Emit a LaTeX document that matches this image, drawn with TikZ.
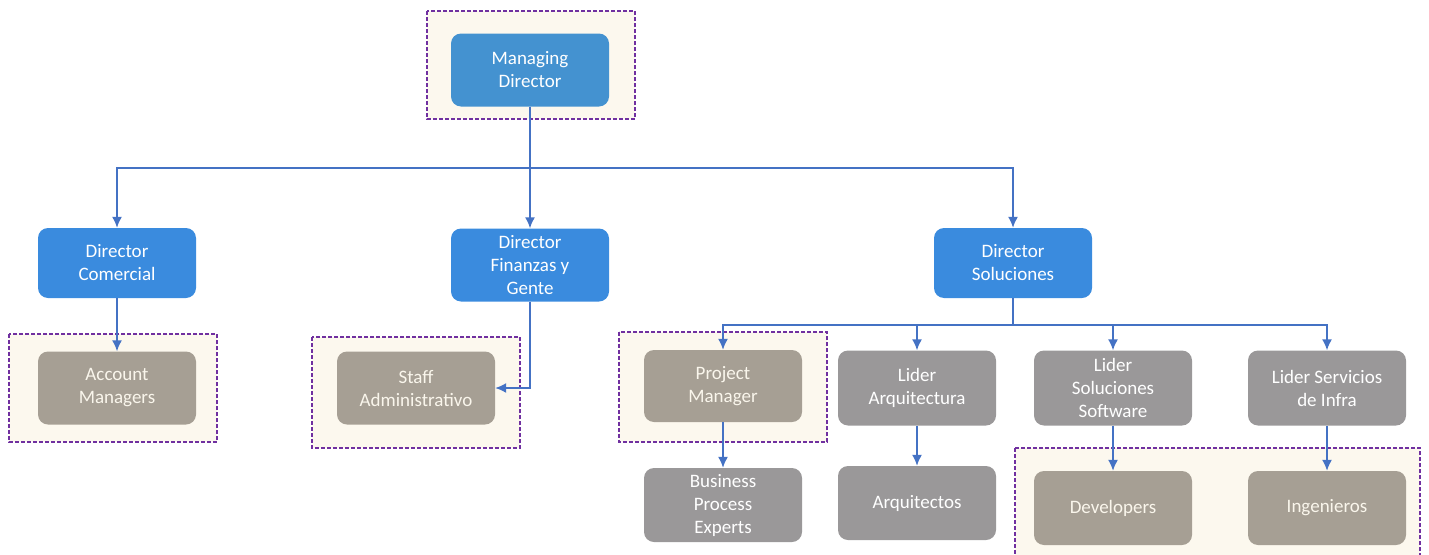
\documentclass[tikz,border=0pt]{standalone}
\usepackage{fontspec}
\setmainfont{Carlito}
\usetikzlibrary{arrows.meta}
\definecolor{mdblue}{RGB}{68,146,208}
\definecolor{dirblue}{RGB}{58,139,222}
\definecolor{brownbox}{RGB}{166,159,148}
\definecolor{graybox}{RGB}{154,152,153}
\definecolor{cream}{RGB}{252,248,238}
\definecolor{dashpurple}{RGB}{112,48,160}
\definecolor{linkblue}{RGB}{68,114,196}
\definecolor{paletext}{RGB}{250,246,236}

\begin{document}
\begin{tikzpicture}[x=1pt,y=-1pt,
  box/.style={rounded corners=10pt,minimum width=158pt,minimum height=73pt,
    align=center,text=white,font=\fontsize{19}{23}\selectfont,inner sep=2pt},
  dirbox/.style={box,fill=dirblue},
  staffbox/.style={box,fill=brownbox,text=paletext},
  leadbox/.style={box,fill=graybox},
  group/.style={draw=dashpurple,fill=cream,dashed,line width=1.2pt,dash pattern=on 4pt off 2pt},
  link/.style={draw=linkblue,line width=1.6pt,-{Latex[length=11pt,width=10pt]}}]
  \useasboundingbox (0,0) rectangle (1429,554);
  \clip (0,0) rectangle (1429,554);
  % dashed groups
  \draw [group] (427,11) rectangle (635,119);
  \draw [group] (9,334) rectangle (217,442);
  \draw [group] (312,337) rectangle (520,448);
  \draw [group] (619,332) rectangle (827,442);
  \draw [group] (1015,448) rectangle (1420,570);
  % top and directors
  \node [box,fill=mdblue] (md) at (530,70) {Managing\\Director};
  \node [dirbox,minimum height=70pt] (dc) at (117,263) {Director\\Comercial};
  \node [dirbox] (dfg) at (530,265) {Director\\Finanzas y\\Gente};
  \node [dirbox,minimum height=70pt] (ds) at (1013,263) {Director\\Soluciones};
  % second level
  \node [staffbox] (am) at (117,388) {Account\\Managers};
  \node [staffbox] (sa) at (416,388) {Staff\\Administrativo};
  \node [staffbox,minimum height=72pt] (pm) at (723,386) {Project\\Manager};
  \node [leadbox,minimum height=75pt] (la) at (917,388) {Lider\\Arquitectura};
  \node [leadbox,minimum height=75pt] (lss) at (1113,388) {Lider\\Soluciones\\Software};
  \node [leadbox,minimum height=75pt] (lsi) at (1327,388) {Lider Servicios\\de Infra};
  % third level
  \node [leadbox,minimum height=74pt] (bpe) at (723,505) {Business\\Process\\Experts};
  \node [leadbox,minimum height=74pt] (arq) at (917,503) {Arquitectos};
  \node [staffbox,minimum height=74pt] (dev) at (1113,508) {Developers};
  \node [staffbox,minimum height=74pt] (ing) at (1327,508) {Ingenieros};
  % connectors
  \coordinate (bus1) at (530,168);
  \coordinate (bus2) at (1013,325);
  \draw [link] (md.south) -- (bus1) -| (dc.north);
  \draw [link] (bus1) -| (ds.north);
  \draw [link] (md.south) -- (dfg.north);
  \draw [link] (dc.south) -- (am.north);
  \draw [link] (dfg.south) |- (sa.east);
  \draw [link] (ds.south) -- (bus2) -| (pm.north);
  \draw [link] (bus2) -| (la.north);
  \draw [link] (bus2) -| (lss.north);
  \draw [link] (bus2) -| (lsi.north);
  \draw [link] (pm.south) -- (bpe.north);
  \draw [link] (la.south) -- (arq.north);
  \draw [link] (lss.south) -- (dev.north);
  \draw [link] (lsi.south) -- (ing.north);
\end{tikzpicture}
\end{document}
